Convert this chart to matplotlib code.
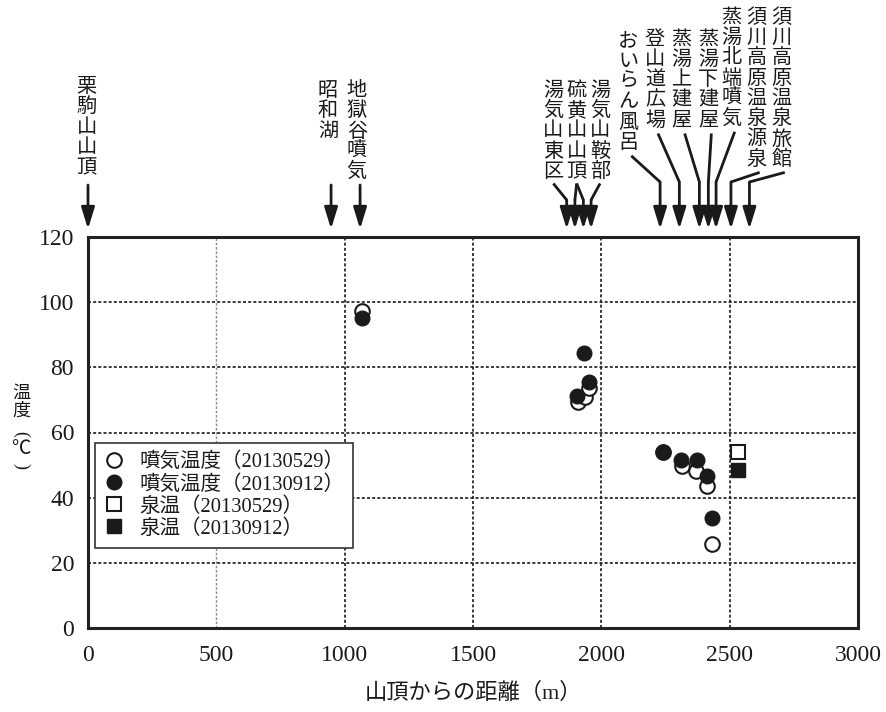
import matplotlib
matplotlib.use('Agg')
import matplotlib.pyplot as plt

# ---------------- data ----------------
fume_x_0529 = [1067, 1910, 1937, 1953, 2241, 2313, 2368, 2413, 2433]
fume_y_0529 = [97.3, 69.5, 70.8, 73.6, 54.0, 49.7, 48.2, 43.7, 25.8]
fume_x_0912 = [1067, 1907, 1933, 1953, 2241, 2310, 2374, 2410, 2432]
fume_y_0912 = [95.2, 71.3, 84.4, 75.5, 54.1, 51.6, 51.6, 46.7, 33.7]
spring_x = [2531]
spring_y_0529 = [53.9]
spring_y_0912 = [48.5]

legend_labels = ["噴気温度（20130529）", "噴気温度（20130912）",
                 "泉温（20130529）", "泉温（20130912）"]

x_ticks = [0, 500, 1000, 1500, 2000, 2500, 3000]
y_ticks = [0, 20, 40, 60, 80, 100, 120]

# location labels: name, label column x, arrow x positions (distance from summit, m), group
loc_names = ["栗駒山山頂", "昭和湖", "地獄谷噴気", "湯気山東区", "硫黄山山頂", "湯気山鞍部",
             "おいらん風呂", "登山道広場", "蒸湯上建屋", "蒸湯下建屋", "蒸湯北端噴気",
             "須川高原温泉源泉", "須川高原温泉旅館"]
loc_arrow_x = [[0], [947], [1060], [1865], [1897, 1930], [1960],
               [2229], [2304], [2382], [2417], [2447], [2505], [2577]]
loc_label_x = [-5, 935, 1047, 1813, 1904, 1995, 2105, 2209, 2313, 2417, 2508, 2605, 2703]
loc_label_top = [76, 80, 80, 80, 80, 80, 31, 29, 29, 29, 7, 7, 7]
loc_group = ['left', 'left', 'left', 'mid', 'mid', 'mid',
             'right', 'right', 'right', 'right', 'right', 'right', 'right']

# ---------------- figure ----------------
W, H = 886, 712
fig = plt.figure(figsize=(W / 100, H / 100), dpi=100)
ax = fig.add_axes([88 / W, (H - 628) / H, 770 / W, 391 / H])

JP = 'Noto Sans CJK JP'
SERIF_JP = ['Liberation Serif', 'Noto Sans CJK JP']
INK = '#1a1a1a'

ax.plot(fume_x_0529, fume_y_0529, 'o', ms=10.5, mfc='white', mec=INK, mew=1.5,
        label=legend_labels[0], zorder=3)
ax.plot(fume_x_0912, fume_y_0912, 'o', ms=10.5, mfc=INK, mec=INK, mew=1.0,
        label=legend_labels[1], zorder=4)
ax.plot(spring_x, spring_y_0529, 's', ms=9.5, mfc='white', mec=INK, mew=1.5,
        label=legend_labels[2], zorder=3)
ax.plot(spring_x, spring_y_0912, 's', ms=9.5, mfc=INK, mec=INK, mew=1.0,
        label=legend_labels[3], zorder=4)

ax.set_xlim(0, 3000)
ax.set_ylim(0, 120)
ax.set_xticks(x_ticks)
ax.set_yticks(y_ticks)
ax.set_xticklabels([str(v) for v in x_ticks], family='Liberation Serif', fontsize=17, color=INK)
ax.set_yticklabels([str(v) for v in y_ticks], family='Liberation Serif', fontsize=17, color=INK)
ax.tick_params(length=0, pad=10)
ax.tick_params(axis='x', pad=12)

ax.set_axisbelow(True)
ax.grid(True, color=INK, lw=1.2, ls=(0, (1.8, 1.3)))
for i, gl in enumerate(ax.get_xgridlines()):
    if i == 1:
        gl.set_color('#8a8a8a')
        gl.set_linewidth(1.0)

for s in ax.spines.values():
    s.set_linewidth(2.2)
    s.set_color('#222222')

ax.set_xlabel("山頂からの距離（m）", family=SERIF_JP, fontsize=16, color=INK, labelpad=12)

leg = ax.legend(loc='lower left', bbox_to_anchor=(0.009, 0.205), borderaxespad=0,
                frameon=True, fancybox=False, edgecolor='#333333', framealpha=1,
                prop={'family': SERIF_JP, 'size': 14.8}, handlelength=1.0,
                handletextpad=0.7, labelspacing=0.12, borderpad=0.45)
leg.get_frame().set_linewidth(1.2)
for t in leg.get_texts():
    t.set_color(INK)

# ---------------- overlay for location labels and arrows ----------------
ov = fig.add_axes([0, 0, 1, 1])
ov.set_xlim(0, W)
ov.set_ylim(H, 0)
ov.axis('off')
ov.patch.set_visible(False)


def px_of(xd):
    return ax.transData.transform((xd, 0))[0]


axis_top = H - ax.transData.transform((0, 120))[1]
tip_y = axis_top - 8
arrow_props = dict(arrowstyle='-|>,head_length=1.3,head_width=0.4', lw=2.0, color=INK,
                   shrinkA=0, shrinkB=0, mutation_scale=10)

for name, lx, top, axs, grp in zip(loc_names, loc_label_x, loc_label_top, loc_arrow_x, loc_group):
    cx = px_of(lx)
    step = 20.3 if grp != 'left' else 20.4
    for i, ch in enumerate(name):
        ov.text(cx, top + (i + 0.5) * step, ch, ha='center', va='center',
                fontsize=14.5, family=JP, color=INK)
    bottom = top + len(name) * step
    for a in axs:
        ax_px = px_of(a)
        if grp == 'left':
            start = 185
        elif grp == 'mid':
            start = 200
            ov.plot([cx, ax_px], [bottom + 2, start], color=INK, lw=2.0, solid_capstyle='butt')
        else:
            start = 182
            ov.plot([cx + 3, ax_px], [bottom + 3, start], color=INK, lw=2.0, solid_capstyle='butt')
        ov.annotate('', xy=(ax_px, tip_y), xytext=(ax_px, start), arrowprops=arrow_props)

# y-axis label (vertical, with rotated parentheses)
ylab_x = 21
ov.text(ylab_x, 393, "温", ha='center', va='center', fontsize=13, family=JP, color=INK)
ov.text(ylab_x, 411, "度", ha='center', va='center', fontsize=13, family=JP, color=INK)
ov.text(ylab_x, 434, "(", ha='center', va='center', fontsize=13, family='Liberation Serif',
        color=INK, rotation=-90)
ov.text(ylab_x, 448, "℃", ha='center', va='center', fontsize=14, family=JP, color=INK)
ov.text(ylab_x, 466, ")", ha='center', va='center', fontsize=13, family='Liberation Serif',
        color=INK, rotation=-90)

fig.savefig('out.png', dpi=100)
